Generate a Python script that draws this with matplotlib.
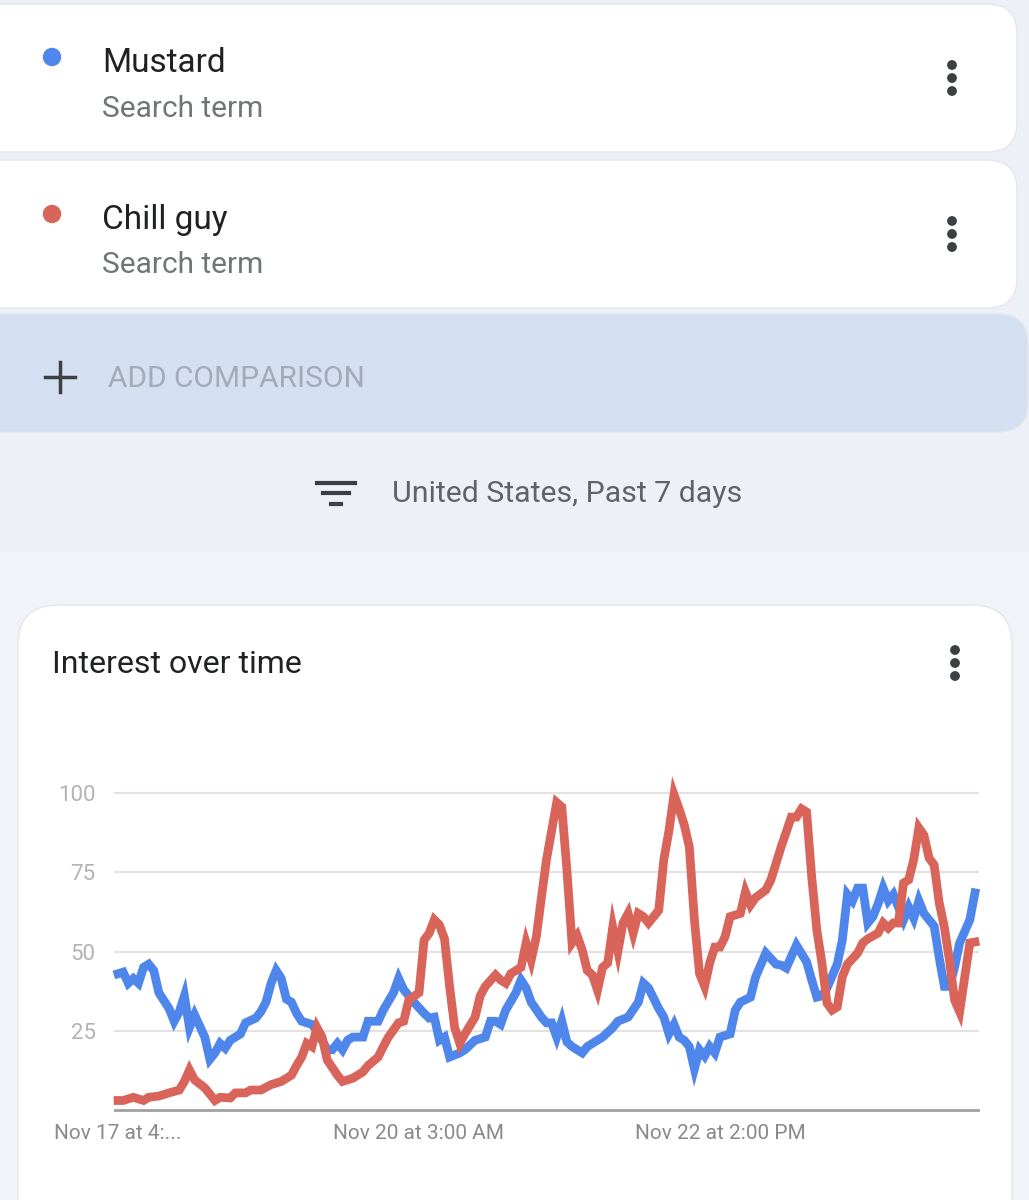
import matplotlib
matplotlib.use("Agg")
import matplotlib.pyplot as plt
from matplotlib.patches import FancyBboxPatch, Rectangle, Circle

plt.rcParams['font.family'] = ['Roboto', 'DejaVu Sans']

# hours after Nov 17, 4:00 PM (hourly data)
mustard_hours = [0, 1, 2, 3, 4, 5, 6, 7, 8, 10, 11, 12, 13, 14, 15, 17, 18, 19, 20, 21,
                 22, 24, 25, 27, 28, 29, 30, 31, 32, 33, 34, 35, 36, 38, 39, 40, 41, 42, 43, 44,
                 45, 46, 48, 49, 51, 52, 54, 55, 56, 58, 60, 61, 62, 63, 64, 65, 67, 68, 70, 72,
                 73, 74, 75, 76, 78, 79, 80, 81, 83, 84, 85, 86, 87, 88, 89, 91, 92, 95, 97, 98,
                 100, 102, 103, 104, 106, 107, 108, 109, 110, 111, 112, 113, 114, 115, 116, 117, 118, 120, 121, 122,
                 124, 125, 127, 129, 130, 131, 133, 135, 136, 137, 138, 139, 141, 142, 143, 144, 145, 146, 147, 148,
                 149, 150, 151, 152, 154, 155, 156, 157, 158, 160, 161, 162, 163, 164, 165, 167, 168]
mustard = [43, 43.5, 40, 41.5, 40, 45, 46, 44, 37, 32, 28, 31, 36, 26, 30, 23, 16, 18, 21, 19.5,
           22, 24, 27.5, 29, 31, 34, 40, 44, 41.5, 35, 34, 30.5, 28, 27, 25, 22, 19, 19, 21, 19,
           22, 23, 23, 28, 28, 31.5, 37, 41.5, 38, 34, 30.5, 29, 29.3, 22, 23, 16.7, 18, 19, 22, 23,
           28, 28, 27, 31.5, 37, 41, 38.5, 34, 29.3, 27.5, 27.5, 23, 28, 21.5, 20, 18, 20, 23, 26, 28,
           29.3, 34, 40, 38.5, 32, 29.3, 24, 27, 23, 22, 20, 13, 19, 17, 20, 18, 23, 24, 31.5, 34,
           35.6, 42, 49.5, 46, 45.7, 44.8, 52, 46.7, 41, 35.6, 36, 38.5, 46, 53.6, 68, 66, 70, 70, 59, 61,
           65, 70, 66, 68, 60, 64, 60.5, 66, 62, 58, 48, 39, 39, 45, 52.7, 60, 68.5]

chill_hours = [0, 1, 3, 5, 6, 8, 10, 12, 13, 14, 15, 17, 19, 20, 22, 23, 25, 26, 28, 30,
               32, 34, 35, 36, 37, 38, 39, 40, 41, 43, 44, 46, 48, 49, 51, 52, 53, 55, 56, 57,
               59, 60, 61, 62, 63, 64, 65, 66, 67, 68, 70, 71, 72, 74, 75, 76, 77, 79, 80, 81,
               82, 83, 84, 86, 87, 88, 89, 90, 91, 92, 93, 94, 95, 96, 97, 98, 99, 100, 101, 102,
               103, 104, 105, 106, 107, 108, 109, 110, 111, 112, 113, 114, 115, 116, 117, 118, 119, 120, 122, 123,
               124, 125, 127, 128, 130, 132, 133, 134, 135, 136, 137, 138, 139, 140, 141, 142, 143, 145, 146, 147,
               149, 150, 151, 152, 153, 154, 155, 156, 157, 158, 159, 160, 161, 162, 163, 164, 165, 166, 167, 168]
chill_guy = [3, 3, 4, 3, 4, 4.4, 5.4, 6.3, 9, 12.6, 9.5, 7, 3, 4, 3.8, 5.4, 5.4, 6.3, 6.3, 8,
             9, 11, 14, 16.7, 21, 20, 26, 23, 15.8, 11, 9, 10, 12, 14, 16.7, 20, 23, 27.5, 28, 34.7,
             37, 53.6, 55.8, 60, 58.4, 54, 39, 26, 21, 24, 29.3, 36, 39, 42.6, 41, 40, 43, 45, 52.7, 47.3,
             54.6, 67, 79, 97, 95.6, 75.7, 52.7, 55, 50.5, 44, 42.6, 37.8, 45, 46.4, 57.7, 50, 59, 62, 55.8, 62,
             61, 59, 61, 63, 79, 88, 99.5, 95, 90, 83, 60, 43, 39, 46.4, 51.4, 51.4, 54.6, 61, 62, 68.8,
             64.7, 67, 69.4, 72.6, 83, 92.4, 92.4, 95, 94, 73.5, 56.8, 46.4, 33.7, 31.5, 32.5, 42, 46, 49.5, 52.7, 54,
             55.8, 59, 57.4, 59, 59, 71.6, 72.6, 79, 89, 86.7, 79.5, 77.3, 65.3, 57.7, 47.3, 34.7, 31, 42, 52.7, 53]

terms = ["Mustard", "Chill guy"]
term_colors = ["#4f86ec", "#d9645a"]
y_ticks = [25, 50, 75, 100]
x_ticks = [0, 59, 118]
x_labels = ["Nov 17 at 4:...", "Nov 20 at 3:00 AM", "Nov 22 at 2:00 PM"]

W, H = 1029, 1200
fig = plt.figure(figsize=(W / 100, H / 100), dpi=100)
fig.patch.set_facecolor("#edf0f7")

# page background drawn in pixel coordinates
bg = fig.add_axes([0, 0, 1, 1])
bg.set_xlim(0, W)
bg.set_ylim(H, 0)
bg.axis("off")
bg.add_patch(Rectangle((0, 552), W, H - 552, color="#f1f3f9", zorder=0))


def card(x, y, w, h, color, r=30):
    bg.add_patch(FancyBboxPatch((x + r, y + r), w - 2 * r, h - 2 * r,
                                boxstyle="round,pad=%d" % r, fc=color,
                                ec="#e3e6ee", lw=1, zorder=1))


def menu(x, y):
    for dy in (-13, 0, 13):
        bg.add_patch(Circle((x, y + dy), 4.2, color="#3c4043", zorder=3))


card(-40, 4, 1057, 148, "white")
card(-40, 160, 1057, 148, "white")
card(-40, 314, 1068, 118, "#d4dff1")
card(18, 605, 994, 640, "white", r=40)

rows = [(57, 72, 117, 78), (214, 229, 273, 234)]
for term, col, (dot_y, name_y, sub_y, menu_y) in zip(terms, term_colors, rows):
    bg.add_patch(Circle((52, dot_y), 8.5, color=col, zorder=3))
    bg.text(102, name_y, term, fontsize=24, color="#202124", va="baseline", zorder=3)
    bg.text(102, sub_y, "Search term", fontsize=21.5, color="#70757a", va="baseline", zorder=3)
    menu(952, menu_y)

bg.plot([45, 75], [377, 377], color="#3c4043", lw=2.5, zorder=3)
bg.plot([60, 60], [362, 392], color="#3c4043", lw=2.5, zorder=3)
bg.text(108, 387, "ADD COMPARISON", fontsize=21.5, color="#a4abb8", va="baseline", zorder=3)

# filter icon
bg.plot([317, 355], [483, 483], color="#3c4043", lw=3, zorder=3)
bg.plot([323, 349], [493, 493], color="#3c4043", lw=3, zorder=3)
bg.plot([331, 341], [504, 504], color="#3c4043", lw=3, zorder=3)
bg.text(392, 502, "United States, Past 7 days", fontsize=21.8, color="#5f6368", va="baseline", zorder=3)

bg.text(52, 673, "Interest over time", fontsize=23, color="#202124", va="baseline", zorder=3)
menu(955, 663)

# the chart itself
ax = fig.add_axes([115 / W, 1 - 1110 / H, (978 - 115) / W, (1110 - 793) / H])
ax.patch.set_alpha(0)
ax.set_zorder(5)
ax.set_xlim(-0.6, 168.6)
ax.set_ylim(0, 100)
for v in y_ticks:
    ax.axhline(v, color="#e2e2e2", lw=1.5, zorder=1, clip_on=False)
ax.plot(mustard_hours, mustard, color=term_colors[0], lw=6.3, solid_joinstyle="miter",
        zorder=3, clip_on=False)
ax.plot(chill_hours, chill_guy, color=term_colors[1], lw=6.3, solid_joinstyle="miter",
        zorder=4, clip_on=False)

for s in ["top", "right", "left"]:
    ax.spines[s].set_visible(False)
ax.spines["bottom"].set_color("#a0a0a0")
ax.spines["bottom"].set_linewidth(2)
ax.set_yticks(y_ticks)
ax.set_yticklabels([str(v) for v in y_ticks], fontsize=16, color="#b3b3b3")
ax.set_xticks(x_ticks)
ax.set_xticklabels(x_labels, fontsize=15, color="#8a8a8a")
ax.tick_params(axis="both", length=0)
ax.tick_params(axis="y", pad=14)
ax.tick_params(axis="x", pad=10)

fig.savefig("out.png", dpi=100, facecolor=fig.get_facecolor())
